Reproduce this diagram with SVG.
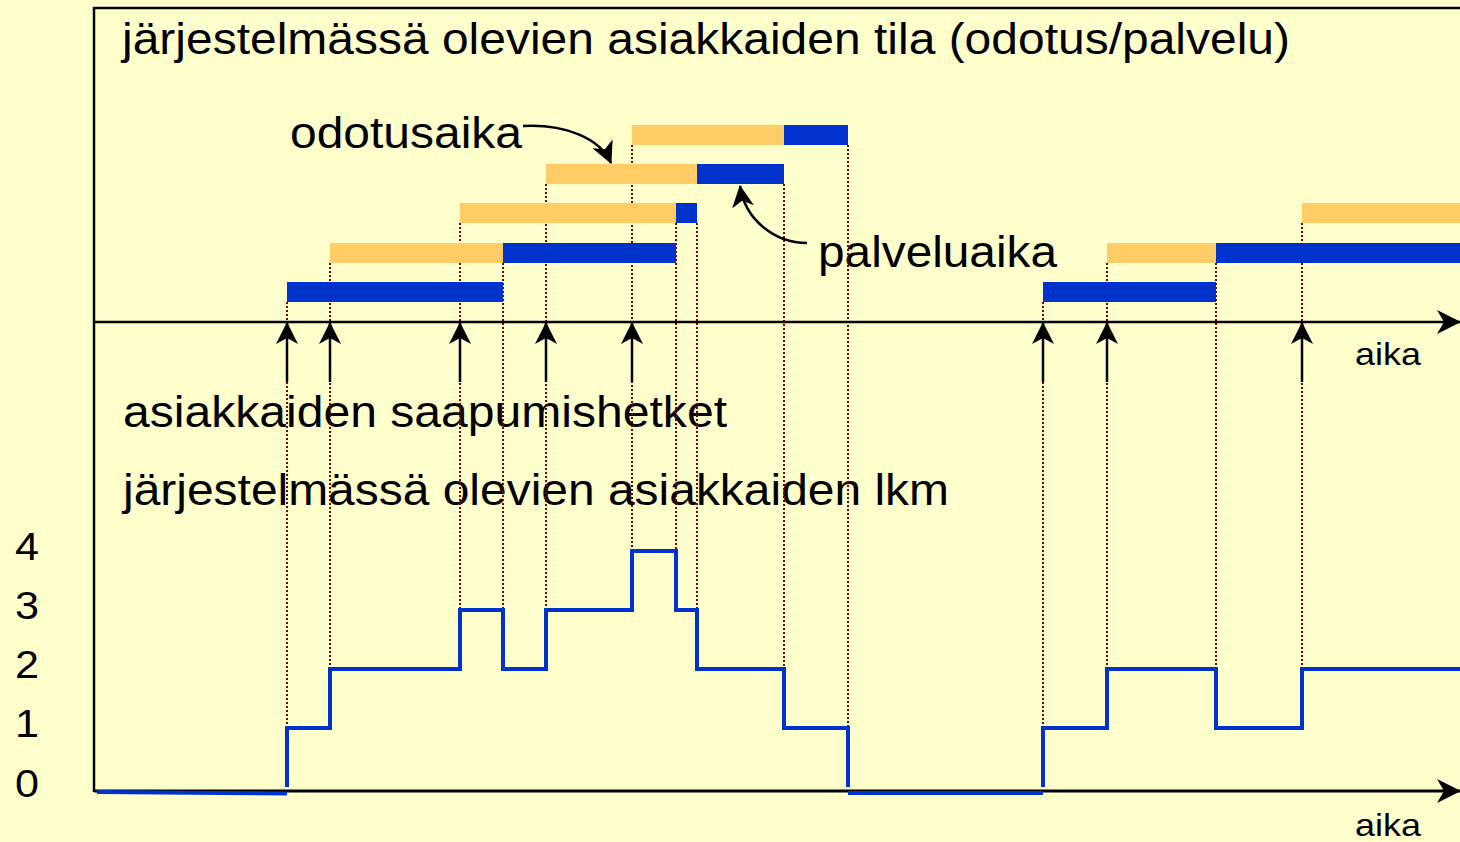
<svg xmlns="http://www.w3.org/2000/svg" width="1460" height="842" viewBox="0 0 1460 842">
<defs>
<style>
text{font-family:"Liberation Sans",Arial,sans-serif;fill:#000}
.big{font-size:44px}
.num{font-size:38px}
.aika{font-size:32px}
.frame{stroke:#000;stroke-width:2.5;fill:none}
.axis{stroke:#000;stroke-width:2.5;fill:none}
.dot{stroke:#800000;stroke-width:2;stroke-dasharray:2 2;fill:none}
.w{fill:#FFCC66}
.s{fill:#0033CC}
.arr{stroke:#000;stroke-width:2.5;fill:none}
.step{stroke:#0033CC;stroke-width:4;fill:none;stroke-linejoin:miter}
</style>
<marker id="head" markerUnits="userSpaceOnUse" viewBox="0 0 22 22" refX="21" refY="11" markerWidth="22" markerHeight="22" orient="auto">
<path d="M0,0 L22,11 L0,22 L6,11 Z" fill="#000"/>
</marker>
<marker id="axhead" markerUnits="userSpaceOnUse" viewBox="0 0 24 24" refX="23" refY="12" markerWidth="24" markerHeight="24" orient="auto">
<path d="M0,0 L24,12 L0,24 L7,12 Z" fill="#000"/>
</marker>
</defs>
<rect x="0" y="0" width="1460" height="842" fill="#FFFFCC"/>

<g id="frame">
<path class="frame" d="M94,792 V8 H1460"/>
</g>

<g id="texts">
<text class="big" x="122" y="54" textLength="1168" lengthAdjust="spacingAndGlyphs">järjestelmässä olevien asiakkaiden tila (odotus/palvelu)</text>
<text class="big" x="290" y="148" textLength="232" lengthAdjust="spacingAndGlyphs">odotusaika</text>
<text class="big" x="818" y="267" textLength="239" lengthAdjust="spacingAndGlyphs">palveluaika</text>
<text class="big" x="123" y="427" textLength="604" lengthAdjust="spacingAndGlyphs">asiakkaiden saapumishetket</text>
<text class="big" x="123" y="505" textLength="826" lengthAdjust="spacingAndGlyphs">järjestelmässä olevien asiakkaiden lkm</text>
<text class="aika" x="1355" y="365" textLength="66" lengthAdjust="spacingAndGlyphs">aika</text>
<text class="aika" x="1355" y="836" textLength="66" lengthAdjust="spacingAndGlyphs">aika</text>
<text class="num" x="15" y="560" textLength="24" lengthAdjust="spacingAndGlyphs">4</text>
<text class="num" x="15" y="619" textLength="24" lengthAdjust="spacingAndGlyphs">3</text>
<text class="num" x="15" y="678" textLength="24" lengthAdjust="spacingAndGlyphs">2</text>
<text class="num" x="15" y="737" textLength="24" lengthAdjust="spacingAndGlyphs">1</text>
<text class="num" x="15" y="797" textLength="24" lengthAdjust="spacingAndGlyphs">0</text>
</g>

<g id="dotted">
<path class="dot" d="M287,302 V728 M330,263 V669 M460,223 V610 M503,263 V610 M546,184 V610 M632,145 V551 M676,223 V551 M697,223 V610 M784,184 V669 M848,145 V728 M1043,302 V728 M1107,263 V669 M1216,263 V669 M1302,223 V669"/>
</g>

<g id="bars">
<rect class="s" x="287" y="282" width="216" height="20"/>
<rect class="w" x="330" y="243" width="173" height="20"/>
<rect class="s" x="503" y="243" width="173" height="20"/>
<rect class="w" x="460" y="203" width="216" height="20"/>
<rect class="s" x="676" y="203" width="21" height="20"/>
<rect class="w" x="546" y="164" width="151" height="20"/>
<rect class="s" x="697" y="164" width="87" height="20"/>
<rect class="w" x="632" y="125" width="152" height="20"/>
<rect class="s" x="784" y="125" width="64" height="20"/>
<rect class="s" x="1043" y="282" width="173" height="20"/>
<rect class="w" x="1107" y="243" width="109" height="20"/>
<rect class="s" x="1216" y="243" width="244" height="20"/>
<rect class="w" x="1302" y="203" width="158" height="20"/>
</g>

<g id="connectors">
<path class="axis" d="M94,322 H1460" marker-end="url(#axhead)"/>
<path class="axis" d="M94,791 H1460" marker-end="url(#axhead)" style="stroke-width:3"/>
<path class="arr" d="M287,382 V323" marker-end="url(#head)"/>
<path class="arr" d="M330,382 V323" marker-end="url(#head)"/>
<path class="arr" d="M460,382 V323" marker-end="url(#head)"/>
<path class="arr" d="M546,382 V323" marker-end="url(#head)"/>
<path class="arr" d="M632,382 V323" marker-end="url(#head)"/>
<path class="arr" d="M1043,382 V323" marker-end="url(#head)"/>
<path class="arr" d="M1107,382 V323" marker-end="url(#head)"/>
<path class="arr" d="M1302,382 V323" marker-end="url(#head)"/>
<path class="arr" d="M523,126 C565,124 600,138 611,163" marker-end="url(#head)"/>
<path class="arr" d="M807,243 C775,243 745,220 740,186" marker-end="url(#head)"/>
</g>

<g id="count">
<path class="step" d="M97,792 L287,793.5 M287,787 V728 H330 V669 H460 V610 H503 V669 H546 V610 H632 V551 H676 V610 H697 V669 H784 V728 H848 V787 M848,793 H1043 M1043,787 V728 H1107 V669 H1216 V728 H1302 V669 H1460"/>
</g>
</svg>
